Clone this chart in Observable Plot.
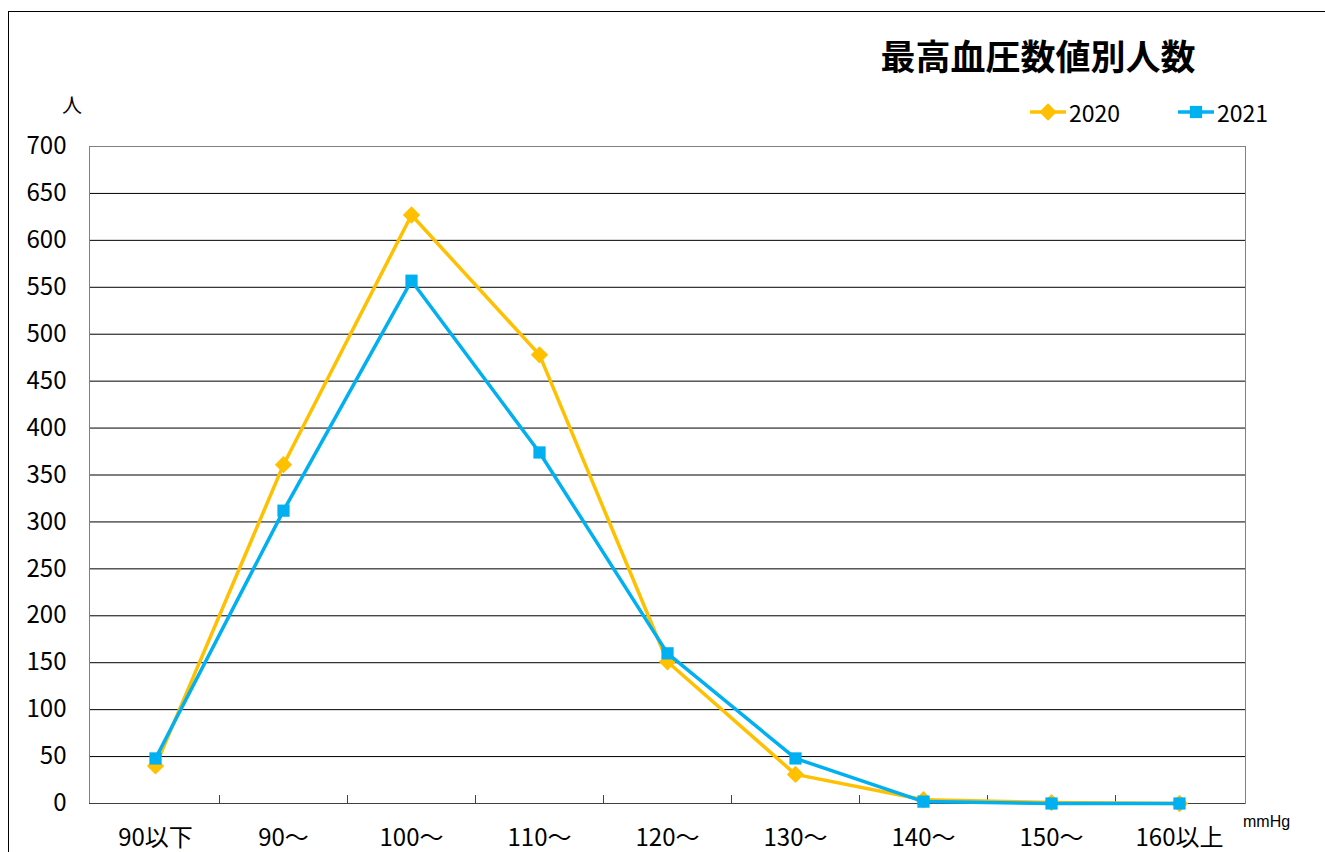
<!DOCTYPE html>
<html lang="ja">
<head>
<meta charset="utf-8">
<title>最高血圧数値別人数</title>
<script src="https://cdn.jsdelivr.net/npm/d3@7"></script>
<script src="https://cdn.jsdelivr.net/npm/@observablehq/plot@0.6"></script>
<style>
  html, body { margin: 0; padding: 0; background: #fff; }
  body { width: 1325px; height: 852px; position: relative; overflow: hidden;
         font-family: "Liberation Sans Narrow", "Noto Sans CJK JP", sans-serif; color: #000; }
  #frame { position: absolute; left: 8px; top: 11px; width: 1400px; height: 900px;
           border: 1px solid #000; box-sizing: border-box; }
  #chart { position: absolute; left: 0; top: 0; }
  #title { position: absolute; left: 838px; width: 400px; top: 32px; text-align: center;
           font-family: "Noto Sans CJK JP", sans-serif; font-weight: 700; font-size: 35px;
           line-height: 46px; letter-spacing: 0; white-space: nowrap; }
  .legend-item { position: absolute; top: 97px; height: 30px; display: flex; align-items: center;
                 font-size: 23px; line-height: 30px; }
  .legend-item svg { display: block; margin-right: 3px; }
  #unit-y { position: absolute; left: 62px; top: 92px; font-family: "Noto Sans CJK JP", sans-serif;
            font-size: 20px; line-height: 26px; }
  #unit-x { position: absolute; left: 1243px; top: 812px; font-family: "Liberation Sans", sans-serif;
            font-size: 16px; line-height: 20px; }
</style>
</head>
<body>
<div id="frame"></div>
<div id="chart"></div>
<div id="title">最高血圧数値別人数</div>
<div id="legend"></div>
<div id="unit-y">人</div>
<div id="unit-x">mmHg</div>
<script>
// Systolic blood pressure bands (mmHg)
const categories = ["90以下", "90～", "100～", "110～", "120～", "130～", "140～", "150～", "160以上"];
// Number of people per band
const values2020 = [40, 361, 627, 478, 151, 31, 4, 1, 0];
const values2021 = [48, 312, 557, 374, 160, 48, 2, 0, 0];
const years = ["2020", "2021"];
const yTicks = [0, 50, 100, 150, 200, 250, 300, 350, 400, 450, 500, 550, 600, 650, 700];

const seriesColor = { "2020": "#FFC000", "2021": "#00B0F0" };
const seriesSymbol = { "2020": "diamond2", "2021": "square" };
const seriesR = { "2020": 7.8, "2021": 6.9 };

const rows = years.flatMap(year => {
  const vals = year === "2020" ? values2020 : values2021;
  return categories.map((cat, i) => ({ year, cat, value: vals[i] }));
});

// Short upward ticks on the category boundaries of the x axis
function boundaryTicks(index, scales) {
  const x = scales.x, y = scales.y;
  const g = d3.create("svg:g").attr("stroke", "#404040").attr("stroke-width", 1);
  const y0 = y(0);
  for (const c of categories.slice(1)) {
    const px = Math.round(x(c)) + 0.5;
    g.append("line").attr("x1", px).attr("x2", px).attr("y1", y0).attr("y2", y0 - 8);
  }
  return g.node();
}

const seriesMarks = years.flatMap(year => {
  const data = rows.filter(d => d.year === year);
  return [
    Plot.line(data, { x: "cat", y: "value", stroke: seriesColor[year], strokeWidth: 3.5,
                      strokeLinejoin: "round", strokeLinecap: "round" }),
    Plot.dot(data, { x: "cat", y: "value", symbol: seriesSymbol[year], r: seriesR[year],
                     fill: seriesColor[year], stroke: "none" })
  ];
});

const chart = Plot.plot({
  width: 1325,
  height: 852,
  marginLeft: 89,
  marginRight: 80,
  marginTop: 146,
  marginBottom: 49,
  style: {
    fontFamily: "'Liberation Sans Narrow', 'Noto Sans CJK JP', sans-serif",
    fontSize: "24px",
    color: "#000",
    background: "transparent",
    overflow: "visible"
  },
  x: { type: "band", domain: categories, padding: 0, tickSize: 0, tickPadding: 25, label: null },
  y: { domain: [0, 700], ticks: yTicks, tickSize: 0, tickPadding: 23, label: null },
  marks: [
    Plot.ruleY(yTicks.filter(v => v > 0 && v < 700), { stroke: "#000", strokeWidth: 1 }),
    Plot.frame({ stroke: "#808080", strokeWidth: 1 }),
    Plot.ruleY([0], { stroke: "#404040", strokeWidth: 1.2 }),
    boundaryTicks,
    ...seriesMarks
  ]
});
document.getElementById("chart").appendChild(chart);

// Legend: line swatch with marker, then the year
const legend = document.getElementById("legend");
const legendLeft = { "2020": 1030, "2021": 1178 };
for (const year of years) {
  const item = document.createElement("div");
  item.className = "legend-item";
  item.style.left = legendLeft[year] + "px";
  const sw = d3.create("svg").attr("width", 36).attr("height", 30);
  sw.append("line").attr("x1", 0).attr("x2", 36).attr("y1", 15).attr("y2", 15)
    .attr("stroke", seriesColor[year]).attr("stroke-width", 3.5);
  const sym = year === "2020" ? d3.symbolDiamond2 : d3.symbolSquare;
  const size = Math.PI * seriesR[year] * seriesR[year];
  sw.append("path").attr("transform", "translate(18,15)")
    .attr("d", d3.symbol(sym, size)()).attr("fill", seriesColor[year]);
  item.appendChild(sw.node());
  const label = document.createElement("span");
  label.textContent = year;
  item.appendChild(label);
  legend.appendChild(item);
}
</script>
</body>
</html>
